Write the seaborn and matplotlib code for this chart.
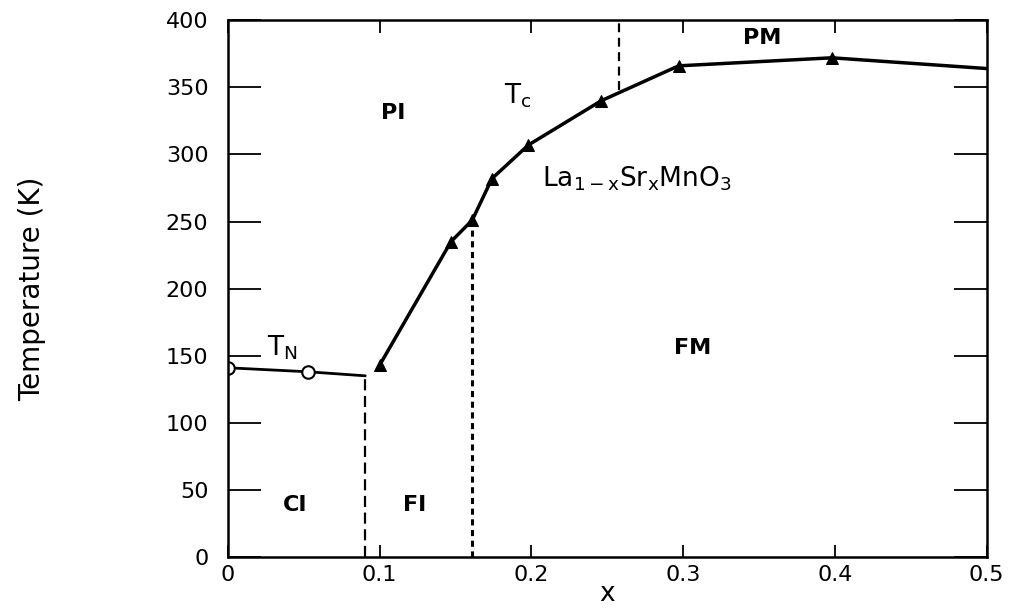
import matplotlib
matplotlib.use("Agg")
import matplotlib.pyplot as plt
import seaborn as sns

# Neel temperature (open circles)
tn_x = [0.0, 0.053, 0.0905]
tn_y = [141, 138, 135]

# Curie temperature (filled triangles)
tc_x = [0.100, 0.147, 0.161, 0.174, 0.198, 0.246, 0.297, 0.398, 0.5]
tc_y = [143, 235, 251, 282, 307, 340, 366, 372, 364]

# phase boundaries (x, ymin, ymax)
fi_bound = (0.0905, 0, 135)
fm_bound = (0.161, 0, 251)
pm_bound = (0.258, 348, 400)

region_names = ["CI", "FI", "PI", "FM", "PM"]
region_x = [0.044, 0.123, 0.109, 0.306, 0.352]
region_y = [39, 39, 331, 156, 387]

x_ticks = [0, 0.1, 0.2, 0.3, 0.4, 0.5]
x_ticklabels = ["0", "0.1", "0.2", "0.3", "0.4", "0.5"]
y_ticks = [0, 50, 100, 150, 200, 250, 300, 350, 400]

sns.set_theme(style="ticks")
plt.rcParams["font.family"] = ["DejaVu Sans"]
plt.rcParams["mathtext.default"] = "regular"
plt.rcParams["text.color"] = "black"

fig = plt.figure(figsize=(10.13, 6.13), dpi=100)
ax = fig.add_axes([0.225, 0.0914, 0.749, 0.8756])

sns.lineplot(x=tn_x, y=tn_y, ax=ax, color="black", linewidth=2,
             marker="o", markersize=9, markerfacecolor="white",
             markeredgecolor="black", markeredgewidth=1.5,
             markevery=[0, 1], estimator=None)
sns.lineplot(x=tc_x, y=tc_y, ax=ax, color="black", linewidth=2.5,
             marker="^", markersize=9, markerfacecolor="black",
             markeredgecolor="black", markevery=list(range(len(tc_x) - 1)),
             estimator=None)

ax.vlines(fi_bound[0], fi_bound[1], fi_bound[2], colors="black",
          linestyles=(0, (5, 2.5)), linewidth=1.6)
ax.vlines(fm_bound[0], fm_bound[1], fm_bound[2], colors="black",
          linestyles=(0, (2, 1.5)), linewidth=2.2)
ax.vlines(pm_bound[0], pm_bound[1], pm_bound[2], colors="black",
          linestyles=(0, (4, 2.5)), linewidth=1.6)

for name, x, y in zip(region_names, region_x, region_y):
    ax.text(x, y, name, ha="center", va="center", fontsize=16,
            fontweight="bold", color="black")

ax.text(0.026, 156, r"$T_N$", ha="left", va="center", fontsize=19,
        color="black")
ax.text(0.182, 344, r"$T_c$", ha="left", va="center", fontsize=19,
        color="black")
ax.text(0.207, 276, r"$La_{1-x}Sr_xMnO_3$", ha="left", va="baseline",
        fontsize=19, color="black")

ax.set_xlim(0, 0.5)
ax.set_ylim(0, 400)
ax.set_xticks(x_ticks)
ax.set_xticklabels(x_ticklabels)
ax.set_yticks(y_ticks)

ax.tick_params(axis="both", direction="in", top=True, right=True,
               labelsize=16, color="black", labelcolor="black", width=1.3)
ax.tick_params(axis="y", length=24, pad=14)
ax.tick_params(axis="x", length=9, pad=6)

for side in ["left", "right", "top", "bottom"]:
    ax.spines[side].set_linewidth(1.8)
    ax.spines[side].set_color("black")

ax.set_xlabel("x", fontsize=19, color="black")
ax.xaxis.set_label_coords(0.5, -0.045)
ax.set_ylabel("Temperature (K)", fontsize=20, color="black")
ax.yaxis.set_label_coords(-0.24, 0.5)

fig.savefig("out.png", dpi=100)
